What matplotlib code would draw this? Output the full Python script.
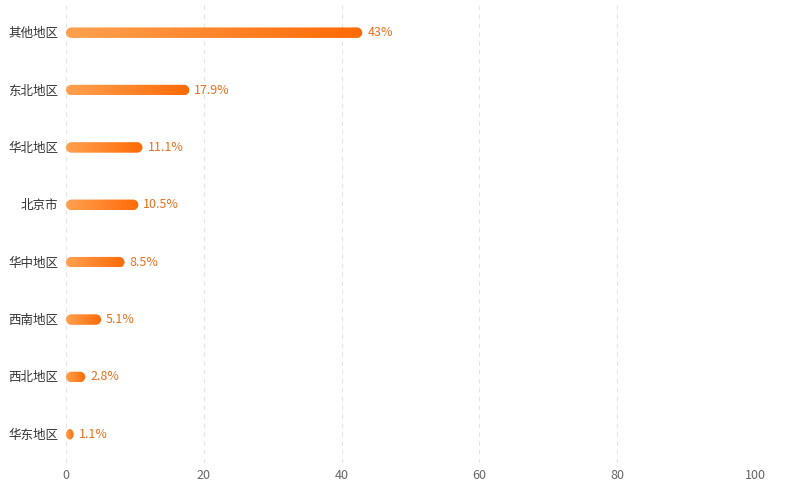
import numpy as np
import matplotlib
matplotlib.use("Agg")
import matplotlib.pyplot as plt
import matplotlib.transforms as mtransforms
from matplotlib.path import Path
from matplotlib.patches import PathPatch
from matplotlib.colors import LinearSegmentedColormap

plt.rcParams['font.family'] = ['Noto Sans CJK SC', 'DejaVu Sans']

# data, bottom to top
regions = ["华东地区", "西北地区", "西南地区", "华中地区", "北京市", "华北地区", "东北地区", "其他地区"]
values = [1.1, 2.8, 5.1, 8.5, 10.5, 11.1, 17.9, 43]
labels = ["1.1%", "2.8%", "5.1%", "8.5%", "10.5%", "11.1%", "17.9%", "43%"]
xticks = [0, 20, 40, 60, 80, 100]

W, H = 788, 503
fig = plt.figure(figsize=(W / 100, H / 100), dpi=100)
ax = fig.add_axes([66 / W, 1 - 463 / H, (755 - 66) / W, (463 - 4) / H])
ax.set_xlim(0, 100)
ax.set_ylim(-0.5, len(regions) - 0.5)

# px per data unit
px_x = (755 - 66) / 100
px_y = (463 - 4) / len(regions)

cmap = LinearSegmentedColormap.from_list("bar", ["#ffa150", "#ff6a06"])
grad = np.linspace(0, 1, 256).reshape(1, -1)

bar_h_px = 10.5


def rounded_path(x0, y0, w, h, rx, ry):
    k = 0.5523
    verts = [
        (x0 + rx, y0), (x0 + w - rx, y0),
        (x0 + w - rx + k * rx, y0), (x0 + w, y0 + ry - k * ry), (x0 + w, y0 + ry),
        (x0 + w, y0 + h - ry),
        (x0 + w, y0 + h - ry + k * ry), (x0 + w - rx + k * rx, y0 + h), (x0 + w - rx, y0 + h),
        (x0 + rx, y0 + h),
        (x0 + rx - k * rx, y0 + h), (x0, y0 + h - ry + k * ry), (x0, y0 + h - ry),
        (x0, y0 + ry),
        (x0, y0 + ry - k * ry), (x0 + rx - k * rx, y0), (x0 + rx, y0),
        (x0 + rx, y0),
    ]
    codes = [Path.MOVETO, Path.LINETO,
             Path.CURVE4, Path.CURVE4, Path.CURVE4,
             Path.LINETO,
             Path.CURVE4, Path.CURVE4, Path.CURVE4,
             Path.LINETO,
             Path.CURVE4, Path.CURVE4, Path.CURVE4,
             Path.LINETO,
             Path.CURVE4, Path.CURVE4, Path.CURVE4,
             Path.CLOSEPOLY]
    return Path(verts, codes)


for i, (v, lab) in enumerate(zip(values, labels)):
    h = bar_h_px / px_y
    y0 = i - h / 2
    rx = min(bar_h_px / 2 / px_x, v / 2)
    ry = h / 2
    patch = PathPatch(rounded_path(0, y0, v, h, rx, ry), facecolor="none", edgecolor="none")
    ax.add_patch(patch)
    im = ax.imshow(grad, cmap=cmap, aspect="auto", extent=[0, v, y0, y0 + h],
                   interpolation="bilinear", zorder=3)
    im.set_clip_path(patch)
    ax.text(v + 5 / px_x, i, lab, va="center", ha="left", fontsize=9, color="#e8701c")

ax.set_xlim(0, 100)
ax.set_ylim(-0.5, len(regions) - 0.5)

for x in xticks:
    ax.axvline(x, color="#e4e4e4", lw=0.8, ls=(0, (4, 4)), zorder=0)

ax.set_xticks(xticks)
ax.set_xticklabels([str(x) for x in xticks])
ax.set_yticks(range(len(regions)))
ax.set_yticklabels(regions)
ax.tick_params(axis="x", length=0, pad=4, labelsize=9, labelcolor="#666666")
ax.tick_params(axis="y", length=0, pad=5.5, labelsize=9, labelcolor="#333333")
for t in ax.get_yticklabels():
    t.set_transform(t.get_transform() + mtransforms.ScaledTranslation(0, 0.5 / 100, fig.dpi_scale_trans))
for s in ax.spines.values():
    s.set_visible(False)

fig.savefig("out.png", dpi=100)
